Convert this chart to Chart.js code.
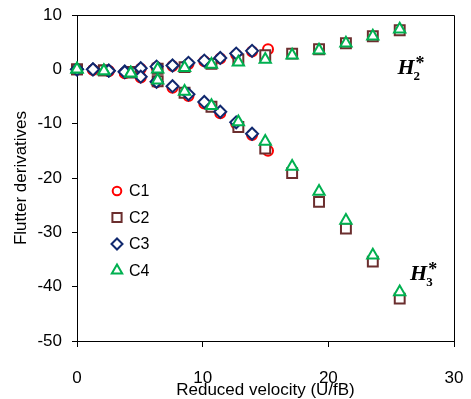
<!DOCTYPE html>
<html>
<head>
<meta charset="utf-8">
<script src="https://cdn.jsdelivr.net/npm/chart.js@4.4.1/dist/chart.umd.min.js"></script>
<style>
  html, body { margin: 0; padding: 0; background: #fff; }
  #wrap { width: 471px; height: 399px; }
</style>
</head>
<body>
<div id="wrap"><canvas id="chart" width="471" height="399"></canvas></div>
<script>
// reduced velocity (U/fB) of each test run
const velC1C3 = [0, 1.27, 2.53, 3.8, 5.07, 6.33, 7.6, 8.87, 10.13, 11.4, 12.67, 13.93, 15.2];
const velC2C4 = [0, 2.14, 4.28, 6.42, 8.56, 10.7, 12.84, 14.98, 17.12, 19.26, 21.4, 23.54, 25.68];

// H2* (upper branch)
const h2C1 = [0, -0.1, -0.3, -0.6, 0.1, 0.4, 0.6, 1.0, 1.5, 2.0, 2.7, 3.3, 3.7];
const h2C2 = [0, -0.2, -0.5, 0.1, 0.4, 1.0, 1.8, 2.6, 2.9, 3.7, 4.8, 6.1, 7.2];
const h2C3 = [0, 0, -0.25, -0.4, 0.2, 0.5, 0.7, 1.2, 1.6, 2.1, 2.9, 3.4];
const h2C4 = [0, -0.3, -0.7, 0.0, 0.3, 0.9, 1.3, 1.8, 2.6, 3.5, 4.8, 6.1, 7.4];

// H3* (lower branch)
const h3C1 = [0, -0.1, -0.3, -0.7, -1.5, -2.4, -3.4, -4.9, -6.3, -8.1, -10.0, -12.1, -15.0];
const h3C2 = [0, -0.2, -0.6, -2.2, -4.3, -6.9, -10.6, -14.6, -19.1, -24.4, -29.3, -35.4, -42.2];
const h3C3 = [0, 0, -0.25, -0.5, -1.35, -2.3, -3.1, -4.6, -6.0, -7.8, -9.75, -11.85];
const h3C4 = [0, -0.3, -0.7, -2.0, -4.1, -6.7, -9.7, -13.3, -17.9, -22.5, -27.8, -34.2, -41.0];

const seriesNames = ["C1", "C2", "C3", "C4"];
const xTicks = [0, 10, 20, 30];
const yTicks = [-50, -40, -30, -20, -10, 0, 10];

const colC1 = "#ff0000";
const colC2 = "#6b2e2e";
const colC3 = "#10286e";
const colC4 = "#00b050";

Chart.defaults.font.family = "'Liberation Sans', Arial, sans-serif";
Chart.defaults.color = "#000";

function points(vel, h2, h3) {
  const a = h2.map((v, i) => ({ x: vel[i], y: v }));
  const b = h3.map((v, i) => ({ x: vel[i], y: v }));
  return a.concat(b);
}

function series(i, vel, h2, h3, color, style, radius, order) {
  return {
    label: seriesNames[i],
    data: points(vel, h2, h3),
    pointStyle: style,
    pointRadius: radius,
    pointBorderWidth: 2,
    borderColor: color,
    pointBorderColor: color,
    pointBackgroundColor: "#fff",
    showLine: false,
    clip: false,
    order: order,
  };
}

const datasets = [
  series(0, velC1C3, h2C1, h3C1, colC1, "circle", 5, 4),
  series(1, velC2C4, h2C2, h3C2, colC2, "rect", 7, 3),
  series(2, velC1C3, h2C3, h3C3, colC3, "rectRot", 6, 2),
  series(3, velC2C4, h2C4, h3C4, colC4, "triangle", 6.5, 1),
];

// top and right side of the frame
const framePlugin = {
  id: "frame",
  beforeDatasetsDraw(chart) {
    const { ctx, chartArea: a } = chart;
    ctx.save();
    ctx.strokeStyle = "#000";
    ctx.lineWidth = 1;
    ctx.beginPath();
    ctx.moveTo(a.left, a.top + 0.5);
    ctx.lineTo(a.right + 0.5, a.top + 0.5);
    ctx.lineTo(a.right + 0.5, a.bottom);
    ctx.stroke();
    ctx.restore();
  },
};

// legend inside the plot, and the H2* / H3* labels
const legendPlugin = {
  id: "innerLegend",
  afterDatasetsDraw(chart) {
    const { ctx } = chart;
    const sizes = { circle: 4.3, rect: 6.5, rectRot: 5.5, triangle: 6 };
    ctx.save();
    chart.data.datasets.forEach((ds, i) => {
      const x = 117;
      const y = 191 + i * 26.5;
      ctx.strokeStyle = ds.pointBorderColor;
      ctx.fillStyle = "#fff";
      ctx.lineWidth = 2;
      Chart.helpers.drawPoint(ctx, { pointStyle: ds.pointStyle, radius: sizes[ds.pointStyle], rotation: 0, borderWidth: 2 }, x, y);
      ctx.fillStyle = "#000";
      ctx.font = "16px 'Liberation Sans', Arial, sans-serif";
      ctx.textAlign = "left";
      ctx.textBaseline = "middle";
      ctx.fillText(ds.label, 129, y + 1);
    });

    const xs = chart.scales.x;
    const ys = chart.scales.y;
    function hLabel(xv, yv, sub) {
      const px = xs.getPixelForValue(xv);
      const py = ys.getPixelForValue(yv);
      ctx.fillStyle = "#000";
      ctx.textAlign = "left";
      ctx.textBaseline = "alphabetic";
      ctx.font = "italic bold 22px 'Liberation Serif', serif";
      ctx.fillText("H", px, py);
      const w = ctx.measureText("H").width;
      ctx.font = "bold 13px 'Liberation Serif', serif";
      ctx.fillText(sub, px + w - 1, py + 6);
      ctx.font = "bold 18px 'Liberation Serif', serif";
      ctx.fillText("*", px + w + 1, py - 5);
    }
    hLabel(25.5, -0.9, "2");
    hLabel(26.5, -38.8, "3");
    ctx.restore();
  },
};

new Chart(document.getElementById("chart"), {
  type: "scatter",
  data: { datasets: datasets },
  options: {
    responsive: false,
    animation: false,
    layout: { padding: { left: 6, right: 17, top: 15, bottom: 0 } },
    plugins: {
      legend: { display: false },
      tooltip: { enabled: false },
    },
    scales: {
      x: {
        min: 0,
        max: 30,
        afterBuildTicks: (s) => { s.ticks = xTicks.map((v) => ({ value: v })); },
        afterFit: (s) => {
          s.height = 58;
          s.paddingLeft = 0;
          s.paddingRight = 0;
        },
        ticks: { padding: 21, font: { size: 17 }, color: "#000" },
        grid: { drawOnChartArea: false, color: "#000", tickLength: 6 },
        border: { color: "#000", width: 1 },
        title: {
          display: true,
          text: "Reduced velocity (U/fB)",
          font: { size: 17 },
          color: "#000",
          padding: { top: 0, bottom: -2 },
        },
      },
      y: {
        min: -50,
        max: 10,
        afterBuildTicks: (s) => { s.ticks = yTicks.map((v) => ({ value: v })); },
        afterFit: (s) => {
          s.width = 71;
          s.paddingTop = 0;
          s.paddingBottom = 0;
        },
        ticks: { padding: 10, font: { size: 17 }, color: "#000" },
        grid: { drawOnChartArea: false, color: "#000", tickLength: 5 },
        border: { color: "#000", width: 1 },
        title: {
          display: true,
          text: "Flutter derivatives",
          font: { size: 17 },
          color: "#000",
          padding: { top: 5, bottom: 8 },
        },
      },
    },
  },
  plugins: [framePlugin, legendPlugin],
});
</script>
</body>
</html>
